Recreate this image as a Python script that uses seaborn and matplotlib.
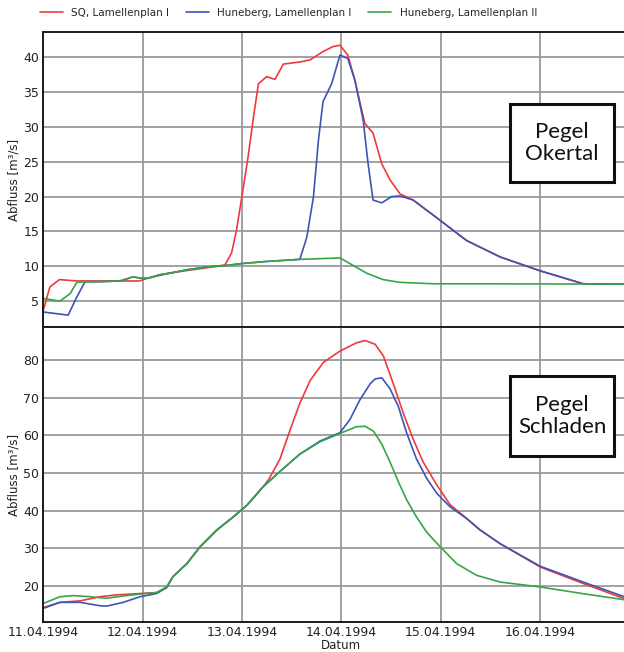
import numpy as np
import pandas as pd
import matplotlib
matplotlib.use("Agg")
import matplotlib.pyplot as plt
import matplotlib.dates as mdates
from matplotlib.patches import Rectangle
import seaborn as sns

# ---------------------------------------------------------------------------
# Data: discharge hydrographs, April 1994 flood (hours after 11.04.1994 00:00)
# ---------------------------------------------------------------------------
series_names = ["SQ, Lamellenplan I", "Huneberg, Lamellenplan I", "Huneberg, Lamellenplan II"]
series_colors = ["#f0393c", "#3b56b5", "#36a645"]

# Pegel Okertal
okertal_sq_h = [0, 1.6, 3.9, 8.1, 13.7, 18.5, 23.2, 25.3, 28.2, 31.3, 34.7, 39.5, 43.9,
                45.5, 46.7, 48.0, 49.5, 50.8, 52.0, 54.0, 56.0, 58.0, 62.0, 64.5, 67.6,
                70.0, 71.7, 73.6, 75.3, 77.7, 79.7, 81.8, 83.8, 86.2, 89.4, 95.9, 102.3,
                110.4, 120.1, 130.5, 137.0, 144.0]
okertal_sq_q = [3.7, 7.05, 8.1, 7.9, 7.9, 7.9, 7.9, 8.3, 8.7, 9.1, 9.4, 9.8, 10.2,
                11.9, 15.2, 20.0, 25.7, 31.4, 36.2, 37.2, 36.8, 39.0, 39.3, 39.6, 40.8,
                41.5, 41.7, 40.3, 36.7, 30.5, 29.1, 24.7, 22.4, 20.4, 19.5, 16.6, 13.7,
                11.35, 9.35, 7.5, 7.45, 7.45]

okertal_hb1_h = [0, 6.0, 8.1, 10.1, 13.7, 18.5, 20.2, 21.7, 23.4, 25.3, 28.2, 31.3, 34.7,
                 39.5, 43.9, 48.0, 54.0, 62.0, 63.7, 65.3, 66.5, 67.6, 69.7, 71.7, 73.6,
                 75.3, 77.3, 78.5, 79.7, 81.8, 84.2, 86.2, 89.4, 95.9, 102.3, 110.4,
                 120.1, 130.5, 137.0, 144.0]
okertal_hb1_q = [3.45, 3.0, 5.6, 7.8, 7.8, 7.9, 8.2, 8.5, 8.3, 8.3, 8.8, 9.1, 9.5,
                 9.9, 10.1, 10.4, 10.7, 11.0, 14.2, 20.0, 28.1, 33.6, 36.2, 40.3, 39.8,
                 36.7, 31.0, 24.7, 19.5, 19.1, 20.0, 20.1, 19.5, 16.6, 13.7, 11.35,
                 9.35, 7.5, 7.45, 7.45]

okertal_hb2_h = [0, 4.0, 6.5, 8.1, 10.5, 13.7, 18.5, 20.2, 21.7, 23.4, 25.3, 28.2, 31.3,
                 34.7, 39.5, 43.9, 48.0, 54.0, 62.0, 71.7, 74.1, 78.2, 82.1, 86.2, 94.2,
                 144.0]
okertal_hb2_q = [5.4, 5.0, 6.1, 7.7, 7.8, 7.8, 7.9, 8.2, 8.5, 8.3, 8.3, 8.8, 9.1,
                 9.5, 9.9, 10.1, 10.4, 10.7, 11.0, 11.2, 10.4, 9.0, 8.1, 7.7, 7.5,
                 7.45]

# Pegel Schladen
schladen_sq_h = [0, 4.0, 8.9, 13.7, 17.7, 23.4, 27.4, 29.8, 31.3, 34.7, 37.9, 41.9, 45.9,
                 49.2, 53.1, 54.5, 57.2, 59.7, 62.0, 64.5, 67.7, 71.7, 75.7, 77.8, 80.2,
                 82.2, 84.6, 87.0, 89.4, 91.8, 95.1, 98.3, 102.3, 105.5, 110.4, 120.1,
                 130.5, 140.4]
schladen_sq_q = [14.2, 15.6, 16.0, 17.1, 17.6, 17.95, 18.2, 19.6, 22.4, 25.9, 30.4, 34.8, 38.3,
                 41.4, 46.3, 48.3, 53.7, 61.6, 68.5, 74.6, 79.4, 82.4, 84.6, 85.2, 84.2,
                 81.1, 73.7, 65.9, 59.0, 52.9, 46.8, 41.6, 37.9, 34.9, 31.2, 25.0,
                 20.6, 16.6]

schladen_hb1_h = [0, 4.0, 8.9, 13.7, 15.3, 19.3, 23.4, 27.4, 29.8, 31.3, 34.7, 37.9, 41.9,
                  45.9, 49.2, 53.1, 57.2, 62.0, 66.9, 71.7, 74.1, 76.5, 79.0, 80.2, 81.8,
                  83.8, 85.8, 87.8, 90.2, 92.7, 95.1, 98.3, 102.3, 105.5, 110.4, 120.1,
                  130.5, 140.4]
schladen_hb1_q = [14.0, 15.6, 15.6, 14.7, 14.6, 15.6, 17.1, 17.95, 19.5, 22.4, 25.9, 30.4, 34.8,
                  38.3, 41.4, 46.3, 50.4, 55.0, 58.5, 60.7, 64.2, 69.4, 73.7, 75.0, 75.3,
                  72.4, 67.7, 60.7, 53.7, 48.5, 44.6, 41.0, 37.9, 34.9, 31.2, 25.2,
                  21.0, 17.1]

schladen_hb2_h = [0, 4.0, 7.2, 11.3, 15.3, 19.3, 23.4, 27.4, 29.8, 31.3, 34.7, 37.9, 41.9,
                  45.9, 49.2, 53.1, 57.2, 62.0, 66.9, 71.7, 75.7, 77.8, 79.8, 81.8, 83.8,
                  85.8, 87.8, 90.2, 92.7, 95.9, 99.9, 104.7, 110.4, 120.1, 130.5, 140.4]
schladen_hb2_q = [15.3, 17.1, 17.4, 17.1, 16.7, 17.3, 17.8, 18.2, 19.7, 22.4, 25.9, 30.4, 34.8,
                  38.3, 41.4, 46.3, 50.4, 55.0, 58.3, 60.5, 62.3, 62.4, 61.1, 57.7, 52.9,
                  47.7, 42.9, 38.3, 34.2, 30.4, 25.9, 22.8, 21.0, 19.7, 17.9, 16.3]

okertal_yticks = [5, 10, 15, 20, 25, 30, 35, 40]
schladen_yticks = [20, 30, 40, 50, 60, 70, 80]
day_ticks = ["1994-04-11", "1994-04-12", "1994-04-13", "1994-04-14", "1994-04-15", "1994-04-16"]

start = pd.Timestamp("1994-04-11")


def long_frame(pairs):
    frames = []
    for name, (hours, flows) in zip(series_names, pairs):
        frames.append(pd.DataFrame({
            "Datum": start + pd.to_timedelta(np.asarray(hours, float), unit="h"),
            "Abfluss": flows,
            "Variante": name,
        }))
    return pd.concat(frames, ignore_index=True)


okertal = long_frame([(okertal_sq_h, okertal_sq_q),
                      (okertal_hb1_h, okertal_hb1_q),
                      (okertal_hb2_h, okertal_hb2_q)])
schladen = long_frame([(schladen_sq_h, schladen_sq_q),
                       (schladen_hb1_h, schladen_hb1_q),
                       (schladen_hb2_h, schladen_hb2_q)])

# ---------------------------------------------------------------------------
# Figure
# ---------------------------------------------------------------------------
sns.set_style("whitegrid", {"grid.color": "#9a9a9a", "axes.edgecolor": "#1a1a1a"})
plt.rcParams["font.family"] = ["DejaVu Sans"]

W, H = 624, 652
fig = plt.figure(figsize=(W / 100, H / 100), dpi=100)


def px_axes(x0, y0, x1, y1):
    return fig.add_axes([x0 / W, 1 - y1 / H, (x1 - x0) / W, (y1 - y0) / H])


ax_top = px_axes(43.3, 32, 639.1, 327)
ax_bot = px_axes(43.3, 327, 639.1, 622.3)

palette = dict(zip(series_names, series_colors))
sns.lineplot(data=okertal, x="Datum", y="Abfluss", hue="Variante", palette=palette,
             hue_order=series_names, estimator=None, sort=False, lw=1.2, ax=ax_top,
             legend=True)
sns.lineplot(data=schladen, x="Datum", y="Abfluss", hue="Variante", palette=palette,
             hue_order=series_names, estimator=None, sort=False, lw=1.2, ax=ax_bot,
             legend=False)

xmin, xmax = pd.Timestamp("1994-04-11"), pd.Timestamp("1994-04-17")
for ax in (ax_top, ax_bot):
    ax.set_xlim(xmin, xmax)
    ax.set_xticks(pd.to_datetime(day_ticks))
    ax.xaxis.set_major_formatter(mdates.DateFormatter("%d.%m.%Y"))
    ax.grid(True, color="#9a9a9a", lw=1.3)
    ax.tick_params(length=0, labelsize=9, colors="#222222", pad=3)
    for s in ax.spines.values():
        s.set_color("#1a1a1a")
        s.set_linewidth(1.4)
    ax.set_ylabel("Abfluss [m³/s]", fontsize=8.5, color="#222222", labelpad=2)

ax_top.set_ylim(1.3, 43.6)
ax_top.set_yticks(okertal_yticks)
ax_top.set_xlabel("")
ax_top.tick_params(labelbottom=False)

ax_bot.set_ylim(10.3, 88.8)
ax_bot.set_yticks(schladen_yticks)
ax_bot.set_xlabel("Datum", fontsize=8.5, color="#222222", labelpad=0)

handles, labels = ax_top.get_legend_handles_labels()
ax_top.get_legend().remove()
fig.legend(handles, labels, loc="center left", bbox_to_anchor=(36 / W, 1 - 13 / H),
           ncol=3, frameon=False, fontsize=7.5, handlelength=2.2, columnspacing=1.6,
           handletextpad=0.8, borderaxespad=0)

# Station labels
for (x0, y0, x1, y1), label in [((510, 104, 614, 182), "Pegel\nOkertal"),
                                ((510, 376, 614, 456), "Pegel\nSchladen")]:
    fig.patches.append(Rectangle((x0 / W, 1 - y1 / H), (x1 - x0) / W, (y1 - y0) / H,
                                 transform=fig.transFigure, facecolor="white",
                                 edgecolor="#111111", lw=2.2, zorder=5))
    fig.text((x0 + x1) / 2 / W, 1 - (y0 + y1) / 2 / H, label, ha="center", va="center",
             fontsize=16, family="Lato", color="#111111", linespacing=1.1, zorder=6)

fig.savefig("out.png", dpi=100)
